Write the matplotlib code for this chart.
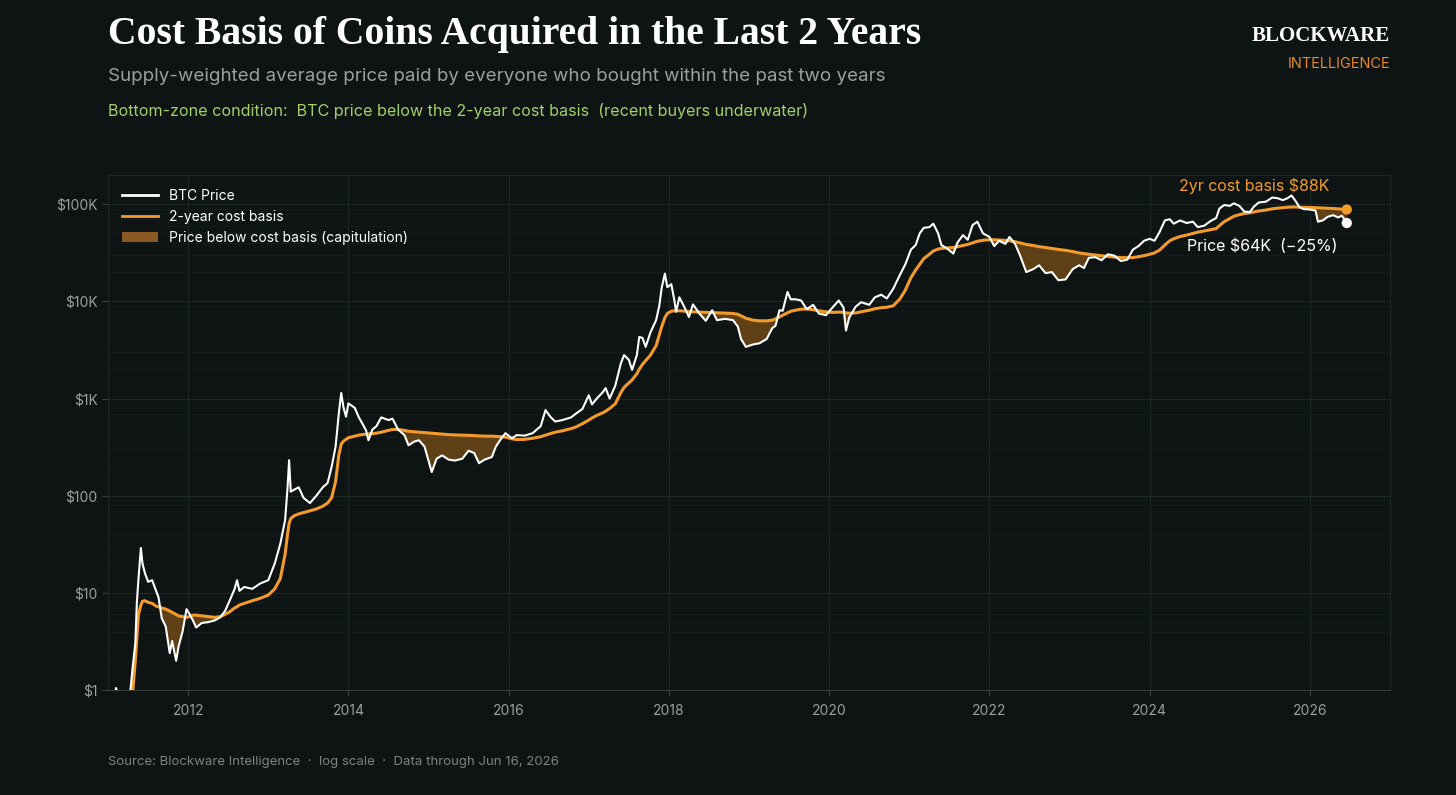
import numpy as np
import matplotlib
matplotlib.use("Agg")
import matplotlib.pyplot as plt
from matplotlib.lines import Line2D
from matplotlib.patches import Patch
from matplotlib.ticker import FixedLocator, LogLocator, NullFormatter

# decimal year, BTC price, 2-year cost basis
dates = [2011.00, 2011.08, 2011.10, 2011.13, 2011.20, 2011.28, 2011.31, 2011.34, 2011.36, 2011.38,
         2011.41, 2011.43, 2011.46, 2011.50, 2011.55, 2011.60, 2011.63, 2011.67, 2011.72, 2011.77,
         2011.80, 2011.85, 2011.88, 2011.93, 2011.98, 2012.02, 2012.06, 2012.10, 2012.17, 2012.25,
         2012.33, 2012.40, 2012.46, 2012.52, 2012.58, 2012.61, 2012.64, 2012.70, 2012.80, 2012.90,
         2013.00, 2013.08, 2013.15, 2013.21, 2013.24, 2013.26, 2013.28, 2013.32, 2013.38, 2013.44,
         2013.52, 2013.60, 2013.68, 2013.74, 2013.79, 2013.84, 2013.88, 2013.91, 2013.94, 2013.97,
         2014.00, 2014.08, 2014.13, 2014.17, 2014.22, 2014.25, 2014.30, 2014.35, 2014.41, 2014.50,
         2014.55, 2014.62, 2014.70, 2014.75, 2014.82, 2014.88, 2014.95, 2015.04, 2015.10, 2015.17,
         2015.25, 2015.33, 2015.42, 2015.50, 2015.57, 2015.63, 2015.70, 2015.79, 2015.84, 2015.90,
         2015.96, 2016.04, 2016.10, 2016.20, 2016.30, 2016.40, 2016.46, 2016.52, 2016.58, 2016.67,
         2016.78, 2016.84, 2016.92, 2017.00, 2017.04, 2017.10, 2017.17, 2017.21, 2017.26, 2017.33,
         2017.40, 2017.44, 2017.50, 2017.54, 2017.60, 2017.63, 2017.67, 2017.71, 2017.77, 2017.84,
         2017.88, 2017.91, 2017.95, 2017.98, 2018.03, 2018.07, 2018.09, 2018.13, 2018.20, 2018.25,
         2018.30, 2018.38, 2018.46, 2018.54, 2018.60, 2018.70, 2018.80, 2018.86, 2018.90, 2018.96,
         2019.05, 2019.13, 2019.22, 2019.29, 2019.33, 2019.38, 2019.42, 2019.48, 2019.52, 2019.58,
         2019.65, 2019.72, 2019.80, 2019.87, 2019.96, 2020.05, 2020.12, 2020.18, 2020.21, 2020.25,
         2020.33, 2020.40, 2020.50, 2020.57, 2020.65, 2020.72, 2020.80, 2020.88, 2020.95, 2021.02,
         2021.08, 2021.13, 2021.18, 2021.25, 2021.30, 2021.36, 2021.40, 2021.47, 2021.55, 2021.60,
         2021.67, 2021.73, 2021.79, 2021.85, 2021.92, 2022.00, 2022.06, 2022.12, 2022.20, 2022.25,
         2022.32, 2022.38, 2022.46, 2022.55, 2022.62, 2022.70, 2022.78, 2022.86, 2022.95, 2023.04,
         2023.12, 2023.18, 2023.24, 2023.32, 2023.40, 2023.48, 2023.56, 2023.64, 2023.72, 2023.79,
         2023.86, 2023.93, 2024.00, 2024.06, 2024.12, 2024.19, 2024.25, 2024.30, 2024.38, 2024.46,
         2024.54, 2024.60, 2024.68, 2024.76, 2024.83, 2024.87, 2024.93, 2025.00, 2025.05, 2025.12,
         2025.18, 2025.25, 2025.30, 2025.36, 2025.45, 2025.53, 2025.60, 2025.66, 2025.72, 2025.77,
         2025.82, 2025.87, 2025.92, 2026.00, 2026.07, 2026.10, 2026.16, 2026.22, 2026.29, 2026.35,
         2026.40, 2026.46]

price = [0.30, 0.70, 1.05, 0.85, 0.80, 1.0, 1.8, 3.0, 8.0, 14.0,
         29.0, 20.0, 16.0, 13.0, 13.5, 10.5, 9.0, 5.5, 4.5, 2.4,
         3.2, 2.0, 2.8, 4.0, 6.8, 6.0, 5.2, 4.4, 4.9, 5.0,
         5.2, 5.6, 6.5, 8.4, 11.0, 13.5, 10.5, 11.5, 11.0, 12.5,
         13.5, 20.0, 32.0, 56.0, 120.0, 232.0, 110.0, 115.0, 122.0, 95.0,
         84.0, 100.0, 122.0, 135.0, 197.0, 320.0, 700.0, 1140.0, 800.0, 650.0,
         890.0, 800.0, 640.0, 560.0, 470.0, 372.0, 480.0, 520.0, 640.0, 600.0,
         620.0, 480.0, 420.0, 330.0, 360.0, 372.0, 320.0, 175.0, 240.0, 260.0,
         235.0, 230.0, 240.0, 290.0, 275.0, 216.0, 235.0, 250.0, 320.0, 380.0,
         440.0, 390.0, 420.0, 415.0, 440.0, 520.0, 760.0, 650.0, 580.0, 600.0,
         640.0, 700.0, 780.0, 1080.0, 870.0, 1000.0, 1150.0, 1280.0, 1000.0, 1350.0,
         2300.0, 2800.0, 2500.0, 1970.0, 2800.0, 4300.0, 4200.0, 3400.0, 4800.0, 6400.0,
         9000.0, 13800.0, 19300.0, 14000.0, 15000.0, 10000.0, 7800.0, 11000.0, 8500.0, 6900.0,
         9300.0, 7500.0, 6300.0, 8100.0, 6400.0, 6600.0, 6400.0, 5500.0, 4100.0, 3400.0,
         3600.0, 3700.0, 4100.0, 5300.0, 5600.0, 8100.0, 8000.0, 12500.0, 10500.0, 10500.0,
         10200.0, 8300.0, 9200.0, 7500.0, 7200.0, 8800.0, 10200.0, 8600.0, 5000.0, 6800.0,
         8800.0, 9800.0, 9200.0, 11000.0, 11700.0, 10700.0, 13500.0, 18500.0, 24000.0, 34000.0,
         38000.0, 50000.0, 57000.0, 58000.0, 63000.0, 50000.0, 38000.0, 35000.0, 31000.0, 40000.0,
         48000.0, 43000.0, 61000.0, 66000.0, 50000.0, 46000.0, 37000.0, 42000.0, 39000.0, 46000.0,
         39000.0, 30000.0, 20000.0, 21500.0, 23500.0, 19500.0, 20000.0, 16500.0, 16800.0, 21500.0,
         23500.0, 22000.0, 28000.0, 28500.0, 26500.0, 30500.0, 29500.0, 26000.0, 26800.0, 34000.0,
         37000.0, 42000.0, 44000.0, 42000.0, 51000.0, 68000.0, 70000.0, 63000.0, 68000.0, 64000.0,
         66000.0, 58000.0, 60000.0, 67000.0, 72000.0, 90000.0, 98000.0, 96000.0, 102000.0, 96000.0,
         84000.0, 83000.0, 94000.0, 104000.0, 106000.0, 117000.0, 115000.0, 110000.0, 115000.0, 123000.0,
         108000.0, 93000.0, 89000.0, 88000.0, 86000.0, 66000.0, 68000.0, 74000.0, 77000.0, 73000.0,
         76000.0, 64000.0]

cost = [0.10, 0.12, 0.13, 0.15, 0.25, 0.6, 1.0, 2.0, 3.5, 6.0,
        7.5, 8.2, 8.3, 8.0, 7.8, 7.3, 7.2, 7.0, 6.8, 6.5,
        6.3, 6.0, 5.8, 5.7, 5.6, 5.7, 5.9, 5.9, 5.8, 5.7,
        5.6, 5.7, 6.0, 6.4, 7.0, 7.2, 7.5, 7.8, 8.3, 8.8,
        9.5, 11.0, 14.0, 25.0, 40.0, 52.0, 58.0, 62.0, 65.0, 67.0,
        70.0, 73.0, 78.0, 84.0, 95.0, 140.0, 260.0, 340.0, 365.0, 380.0,
        395.0, 410.0, 420.0, 425.0, 430.0, 432.0, 435.0, 440.0, 450.0, 470.0,
        480.0, 480.0, 470.0, 460.0, 455.0, 450.0, 445.0, 440.0, 435.0, 430.0,
        425.0, 422.0, 420.0, 418.0, 415.0, 412.0, 410.0, 410.0, 408.0, 405.0,
        400.0, 385.0, 378.0, 380.0, 390.0, 405.0, 420.0, 435.0, 450.0, 465.0,
        490.0, 510.0, 550.0, 600.0, 630.0, 670.0, 710.0, 740.0, 790.0, 880.0,
        1150.0, 1300.0, 1450.0, 1550.0, 1800.0, 2000.0, 2250.0, 2450.0, 2800.0, 3500.0,
        4500.0, 5500.0, 6800.0, 7500.0, 7900.0, 8000.0, 8000.0, 8000.0, 7900.0, 7850.0,
        7800.0, 7750.0, 7700.0, 7650.0, 7600.0, 7550.0, 7500.0, 7350.0, 7100.0, 6700.0,
        6400.0, 6300.0, 6300.0, 6400.0, 6600.0, 6900.0, 7200.0, 7600.0, 7900.0, 8100.0,
        8300.0, 8350.0, 8200.0, 8000.0, 7800.0, 7700.0, 7750.0, 7700.0, 7600.0, 7550.0,
        7600.0, 7800.0, 8100.0, 8400.0, 8600.0, 8700.0, 9000.0, 10500.0, 13000.0, 17500.0,
        21000.0, 24000.0, 27500.0, 30500.0, 33000.0, 34500.0, 35000.0, 35500.0, 35800.0, 36500.0,
        37500.0, 38500.0, 40000.0, 41500.0, 42500.0, 43000.0, 43000.0, 42800.0, 42300.0, 42000.0,
        41000.0, 40000.0, 38500.0, 37500.0, 36500.0, 35800.0, 35000.0, 34200.0, 33500.0, 32500.0,
        31500.0, 31000.0, 30500.0, 30000.0, 29500.0, 29000.0, 28500.0, 28200.0, 28100.0, 28200.0,
        28800.0, 29500.0, 30500.0, 31500.0, 33500.0, 38000.0, 42000.0, 44000.0, 46500.0, 48000.0,
        50000.0, 51500.0, 53000.0, 54500.0, 56000.0, 60000.0, 66000.0, 71000.0, 75000.0, 78000.0,
        80000.0, 81500.0, 83000.0, 85000.0, 87000.0, 89500.0, 91000.0, 92000.0, 93000.0, 93500.0,
        93500.0, 93000.0, 92800.0, 92500.0, 92000.0, 91800.0, 91300.0, 90800.0, 90300.0, 89500.0,
        89000.0, 88000.0]

ytick_vals = [1, 10, 100, 1000, 10000, 100000]
ytick_labels = ["$1", "$10", "$100", "$1K", "$10K", "$100K"]
xtick_vals = [2012, 2014, 2016, 2018, 2020, 2022, 2024, 2026]

BG = "#0e1313"
ORANGE = "#f39a2b"
GREY = "#9aa0a0"

plt.rcParams["font.family"] = ["Inter", "DejaVu Sans"]

fig = plt.figure(figsize=(14.56, 7.95), dpi=100)
fig.patch.set_facecolor(BG)
ax = fig.add_axes([0.0742, 0.132, 0.8805, 0.648])
ax.set_facecolor(BG)

d = np.array(dates)
p = np.array(price)
c = np.array(cost)

ax.fill_between(d, p, c, where=p < c, interpolate=True, color="#f7931a", alpha=0.35, linewidth=0, zorder=2)
ax.plot(d, c, color=ORANGE, lw=2.2, zorder=3, solid_joinstyle="round")
ax.plot(d, p, color="white", lw=1.5, zorder=4, solid_joinstyle="round")

# end-point markers
ax.scatter([d[-1]], [c[-1]], s=55, color=ORANGE, zorder=6, edgecolors="none")
ax.scatter([d[-1]], [p[-1]], s=55, color="white", zorder=6, edgecolors="none")

ax.set_yscale("log")
ax.set_ylim(1, 2.0e5)
ax.set_xlim(2011.0, 2027.0)

ax.yaxis.set_major_locator(FixedLocator(ytick_vals))
ax.set_yticklabels(ytick_labels)
ax.yaxis.set_minor_locator(LogLocator(base=10, subs=np.arange(2, 10)))
ax.yaxis.set_minor_formatter(NullFormatter())
ax.set_xticks(xtick_vals)
ax.set_xticklabels([str(x) for x in xtick_vals])

ax.tick_params(axis="both", which="major", colors="#3a4242", labelcolor=GREY, labelsize=10, length=4, width=0.8)
ax.tick_params(axis="y", which="minor", length=0)
ax.tick_params(axis="x", pad=6)

ax.grid(True, which="major", color="#1f2828", lw=0.8, zorder=0)
ax.grid(True, which="minor", axis="y", color="#151c1c", lw=0.6, zorder=0)
for sp in ax.spines.values():
    sp.set_color("#1f2727")
    sp.set_linewidth(0.8)
ax.spines["bottom"].set_color("#343c3c")

# annotations
ax.text(2025.3, 1.55e5, "2yr cost basis $88K", color=ORANGE, fontsize=11.5, ha="center", va="center")
ax.text(2024.47, 3.7e4, "Price $64K  (\u221225%)", color="white", fontsize=11.5, ha="left", va="center")

handles = [
    Line2D([0], [0], color="white", lw=2),
    Line2D([0], [0], color=ORANGE, lw=2),
    Patch(facecolor="#8b5a24", edgecolor="none"),
]
labels = ["BTC Price", "2-year cost basis", "Price below cost basis (capitulation)"]
leg = ax.legend(handles, labels, loc="upper left", frameon=False, fontsize=10,
                labelcolor="white", handlelength=2.6, borderaxespad=0.6, bbox_to_anchor=(0.0, 1.0))

# header
fig.text(0.0742, 0.957, "Cost Basis of Coins Acquired in the Last 2 Years", color="white",
         fontsize=28.5, fontweight="bold", family="Liberation Serif", va="center", ha="left")
fig.text(0.0742, 0.904, "Supply-weighted average price paid by everyone who bought within the past two years",
         color="#9aa0a0", fontsize=13.5, va="center", ha="left")
fig.text(0.0742, 0.861, "Bottom-zone condition:  BTC price below the 2-year cost basis  (recent buyers underwater)",
         color="#a3d066", fontsize=11.6, va="center", ha="left")
fig.text(0.9547, 0.955, "BLOCKWARE", color="white", fontsize=15, fontweight="bold",
         family="Liberation Serif", va="center", ha="right")
fig.text(0.9547, 0.920, "INTELLIGENCE", color="#e8892b", fontsize=10.5, va="center", ha="right")

fig.text(0.0742, 0.041, "Source: Blockware Intelligence  \u00b7  log scale  \u00b7  Data through Jun 16, 2026",
         color="#7d8383", fontsize=9.5, va="center", ha="left")

fig.savefig("out.png", dpi=100, facecolor=BG)
